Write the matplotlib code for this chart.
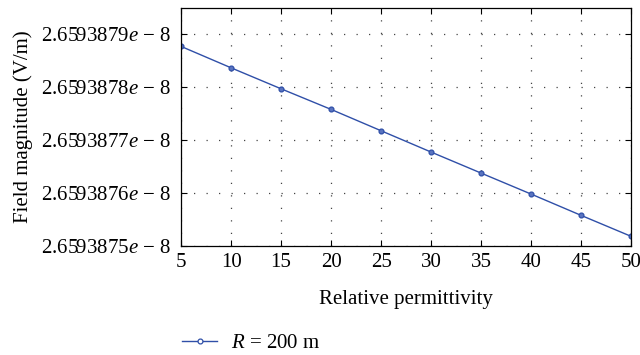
import matplotlib
matplotlib.use("Agg")
import matplotlib.pyplot as plt
from matplotlib.ticker import FuncFormatter, FixedLocator

plt.rcParams['font.family'] = ['Liberation Serif', 'DejaVu Serif']
plt.rcParams['mathtext.fontset'] = 'custom'
plt.rcParams['mathtext.rm'] = 'Liberation Serif'
plt.rcParams['mathtext.it'] = 'Liberation Serif:italic'

permittivity = [5, 10, 15, 20, 25, 30, 35, 40, 45, 50]
field = [2.6593878768e-8, 2.6593878364e-8, 2.6593877968e-8, 2.6593877579e-8,
         2.6593877176e-8, 2.6593876774e-8, 2.6593876377e-8, 2.6593875981e-8,
         2.6593875579e-8, 2.6593875183e-8]
y_ticks = [2.6593875e-8, 2.6593876e-8, 2.6593877e-8, 2.6593878e-8, 2.6593879e-8]
x_ticks = [5, 10, 15, 20, 25, 30, 35, 40, 45, 50]

fig = plt.figure(figsize=(6.4, 3.55), dpi=100)
ax = fig.add_axes([0.283, 0.307, 0.703, 0.670])

ax.plot(permittivity, field, color='#2f4fa8', lw=1.0, marker='o', ms=3.5,
        mfc='#5a74c0', mec='#2f4fa8', mew=0.9, label='$R$ = 200 m')

ax.set_xlim(5, 50)
ax.set_ylim(2.6593875e-8, 2.65938794905e-8)
ax.xaxis.set_major_locator(FixedLocator(x_ticks))
ax.yaxis.set_major_locator(FixedLocator(y_ticks))
ax.yaxis.set_major_formatter(FuncFormatter(lambda v, p: "%.7f$e$ \u2212 8" % (v * 1e8)))

ax.grid(True, color='#444444', linestyle=(0, (1, 9)), linewidth=0.9)
ax.tick_params(direction='in', length=4, width=0.8, labelsize=15,
               top=True, right=True)
ax.tick_params(axis='x', pad=5)
ax.tick_params(axis='y', pad=7)
for s in ax.spines.values():
    s.set_linewidth(0.9)

ax.set_xlabel('Relative permittivity', fontsize=15, labelpad=13)
ax.set_ylabel('Field magnitude (V/m)', fontsize=15, labelpad=6)

leg = ax.legend(loc='upper left', bbox_to_anchor=(-0.04, -0.29), frameon=False,
                fontsize=15, handlelength=1.7, handletextpad=0.65)
leg.get_lines()[0].set_markerfacecolor('white')

fig.savefig('out.png', dpi=100)
